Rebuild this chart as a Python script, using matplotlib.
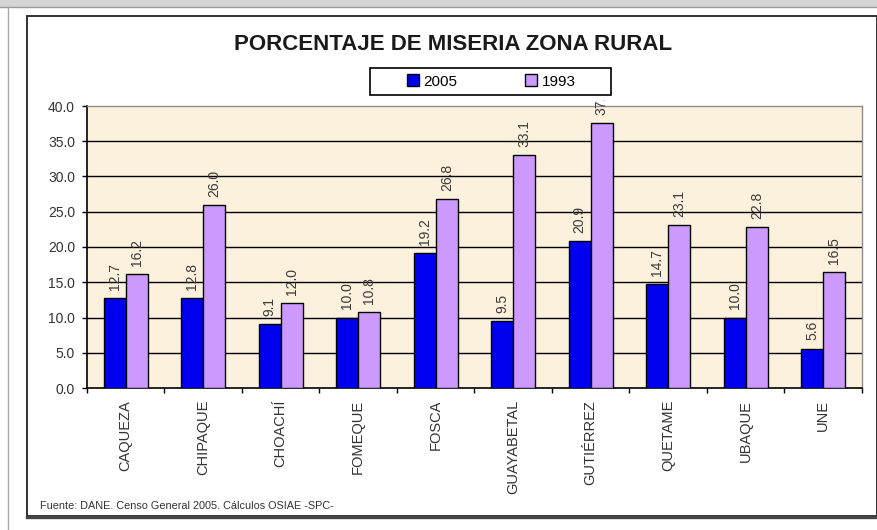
import matplotlib
matplotlib.use("Agg")
import matplotlib.pyplot as plt
from matplotlib.patches import Rectangle
from matplotlib.lines import Line2D
import numpy as np

plt.rcParams['font.family'] = ['Liberation Sans', 'DejaVu Sans']

# Data
municipios = ["CAQUEZA", "CHIPAQUE", "CHOACHÍ", "FOMEQUE", "FOSCA",
              "GUAYABETAL", "GUTIÉRREZ", "QUETAME", "UBAQUE", "UNE"]
miseria_2005 = [12.7, 12.8, 9.1, 10.0, 19.2, 9.5, 20.9, 14.7, 10.0, 5.6]
miseria_1993 = [16.2, 26.0, 12.0, 10.8, 26.8, 33.1, 37.6, 23.1, 22.8, 16.5]
series_names = ["2005", "1993"]
y_ticks = [0, 5, 10, 15, 20, 25, 30, 35, 40]

W, H = 878, 530
fig = plt.figure(figsize=(W / 100, H / 100), dpi=100)
fig.patch.set_facecolor("white")


def fx(px):
    return px / W


def fy(py):
    return 1 - py / H


# Page frame around the chart
fig.add_artist(Rectangle((0, fy(7)), 1, 7 / H, transform=fig.transFigure,
                         facecolor="#d4d4d4", edgecolor="none", zorder=0))
fig.add_artist(Line2D([0, 1], [fy(7), fy(7)], transform=fig.transFigure,
                      color="#9a9a9a", lw=1.0))
fig.add_artist(Line2D([fx(8), fx(8)], [0, fy(7)], transform=fig.transFigure,
                      color="#a8a8a8", lw=1.0))

# Chart border
fig.add_artist(Rectangle((fx(27), fy(516)), fx(877) - fx(27), (516 - 16) / H,
                         transform=fig.transFigure, facecolor="none",
                         edgecolor="#222222", lw=1.3))
fig.add_artist(Line2D([fx(27), fx(878)], [fy(516.5), fy(516.5)],
                      transform=fig.transFigure, color="#444444", lw=2.4))

ax = fig.add_axes([fx(87), fy(388), (862 - 87) / W, (388 - 106) / H])
ax.set_facecolor("#fcf1dc")

x = np.arange(len(municipios))
bw = 0.285
bars05 = ax.bar(x - bw / 2, miseria_2005, bw, color="#0000ee",
                edgecolor="black", lw=1.0, label=series_names[0], zorder=3)
bars93 = ax.bar(x + bw / 2, miseria_1993, bw, color="#cc99ff",
                edgecolor="black", lw=1.0, label=series_names[1], zorder=3)

ax.set_xlim(-0.5, len(municipios) - 0.5)
ax.set_ylim(0, 40)
ax.set_yticks(y_ticks)
ax.set_yticklabels([f"{v:.1f}" for v in y_ticks], fontsize=10, color="#333333")
for v in y_ticks[1:-1]:
    ax.axhline(v, color="black", lw=1.0, zorder=1)

ax.set_xticks(x)
ax.set_xticklabels(municipios, rotation=90, fontsize=10.5, color="#333333",
                   va="top", ha="center")
ax.set_xticks(np.arange(-0.5, len(municipios)), minor=True)
ax.tick_params(axis="x", which="major", length=0, pad=8.6)
ax.tick_params(axis="x", which="minor", length=3.6, width=1.0, direction="out",
               color="black")
ax.tick_params(axis="y", length=3.6, width=1.0, direction="out", pad=5,
               color="black")

for side in ("left", "bottom"):
    ax.spines[side].set_color("black")
    ax.spines[side].set_linewidth(1.2)
for side in ("top", "right"):
    ax.spines[side].set_color("#8c8c8c")
    ax.spines[side].set_linewidth(1.0)

# Value labels
clip = Rectangle((0, 0), 1, fy(100), transform=fig.transFigure)
for cont, vals in ((bars05, miseria_2005), (bars93, miseria_1993)):
    texts = ax.bar_label(cont, labels=[f"{v:.1f}" for v in vals], rotation=90,
                         padding=5.8, fontsize=10, color="#3a3a3a")
    for t in texts:
        t.set_clip_path(clip)

# Title
fig.text(fx(453), fy(45), "PORCENTAJE DE MISERIA ZONA RURAL", fontsize=16,
         fontweight="bold", ha="center", va="center", color="#1a1a1a")

# Legend
fig.add_artist(Rectangle((fx(370), fy(95)), fx(611) - fx(370), (95 - 68) / H,
                         transform=fig.transFigure, facecolor="white",
                         edgecolor="black", lw=1.2))
fig.legend(handles=[bars05, bars93], labels=series_names, loc="center",
           bbox_to_anchor=(fx(491), fy(81.5)), ncol=2, frameon=False,
           fontsize=11, handlelength=0.8, handleheight=0.8,
           handletextpad=0.3, columnspacing=4.4, borderpad=0.1)

# Source note
fig.text(fx(40), fy(506), "Fuente: DANE. Censo General 2005. Cálculos OSIAE -SPC-",
         fontsize=7.8, ha="left", va="center", color="#333333")

fig.savefig("out.png", dpi=100)
